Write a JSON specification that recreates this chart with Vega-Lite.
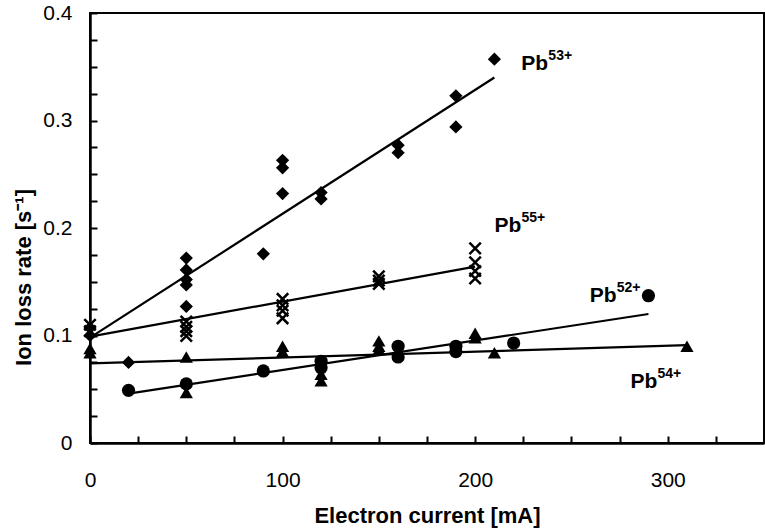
{
  "$schema": "https://vega.github.io/schema/vega-lite/v6.json",
  "width": 674,
  "height": 430,
  "autosize": "none",
  "padding": {"left": 90, "top": 13, "right": 1, "bottom": 89},
  "background": "white",
  "config": {
    "view": {"stroke": "black", "strokeWidth": 2},
    "font": "Liberation Sans",
    "axis": {
      "domainColor": "black", "domainWidth": 2.5, "tickColor": "black", "tickWidth": 2,
      "tickSize": -7, "grid": false, "labelColor": "black", "labelFont": "Liberation Sans",
      "labelFontSize": 21, "titleFont": "Liberation Sans", "titleFontSize": 22,
      "titleFontWeight": "bold", "titleColor": "black"
    }
  },
  "datasets": {
    "points": [
      {"series": "Pb53+", "current": 0, "rate": 0.107},
      {"series": "Pb53+", "current": 0, "rate": 0.100},
      {"series": "Pb53+", "current": 20, "rate": 0.075},
      {"series": "Pb53+", "current": 50, "rate": 0.172},
      {"series": "Pb53+", "current": 50, "rate": 0.161},
      {"series": "Pb53+", "current": 50, "rate": 0.152},
      {"series": "Pb53+", "current": 50, "rate": 0.147},
      {"series": "Pb53+", "current": 50, "rate": 0.127},
      {"series": "Pb53+", "current": 90, "rate": 0.176},
      {"series": "Pb53+", "current": 100, "rate": 0.263},
      {"series": "Pb53+", "current": 100, "rate": 0.256},
      {"series": "Pb53+", "current": 100, "rate": 0.232},
      {"series": "Pb53+", "current": 120, "rate": 0.233},
      {"series": "Pb53+", "current": 120, "rate": 0.227},
      {"series": "Pb53+", "current": 160, "rate": 0.277},
      {"series": "Pb53+", "current": 160, "rate": 0.270},
      {"series": "Pb53+", "current": 190, "rate": 0.323},
      {"series": "Pb53+", "current": 190, "rate": 0.294},
      {"series": "Pb53+", "current": 210, "rate": 0.357},
      {"series": "Pb55+", "current": 0, "rate": 0.110},
      {"series": "Pb55+", "current": 0, "rate": 0.104},
      {"series": "Pb55+", "current": 50, "rate": 0.113},
      {"series": "Pb55+", "current": 50, "rate": 0.108},
      {"series": "Pb55+", "current": 50, "rate": 0.104},
      {"series": "Pb55+", "current": 50, "rate": 0.0995},
      {"series": "Pb55+", "current": 100, "rate": 0.134},
      {"series": "Pb55+", "current": 100, "rate": 0.128},
      {"series": "Pb55+", "current": 100, "rate": 0.123},
      {"series": "Pb55+", "current": 100, "rate": 0.116},
      {"series": "Pb55+", "current": 150, "rate": 0.155},
      {"series": "Pb55+", "current": 150, "rate": 0.151},
      {"series": "Pb55+", "current": 150, "rate": 0.148},
      {"series": "Pb55+", "current": 200, "rate": 0.181},
      {"series": "Pb55+", "current": 200, "rate": 0.168},
      {"series": "Pb55+", "current": 200, "rate": 0.160},
      {"series": "Pb55+", "current": 200, "rate": 0.153},
      {"series": "Pb54+", "current": 0, "rate": 0.088},
      {"series": "Pb54+", "current": 0, "rate": 0.084},
      {"series": "Pb54+", "current": 50, "rate": 0.080},
      {"series": "Pb54+", "current": 50, "rate": 0.047},
      {"series": "Pb54+", "current": 100, "rate": 0.090},
      {"series": "Pb54+", "current": 100, "rate": 0.085},
      {"series": "Pb54+", "current": 120, "rate": 0.064},
      {"series": "Pb54+", "current": 120, "rate": 0.058},
      {"series": "Pb54+", "current": 150, "rate": 0.095},
      {"series": "Pb54+", "current": 150, "rate": 0.090},
      {"series": "Pb54+", "current": 150, "rate": 0.087},
      {"series": "Pb54+", "current": 200, "rate": 0.102},
      {"series": "Pb54+", "current": 200, "rate": 0.098},
      {"series": "Pb54+", "current": 210, "rate": 0.084},
      {"series": "Pb54+", "current": 310, "rate": 0.090},
      {"series": "Pb52+", "current": 20, "rate": 0.049},
      {"series": "Pb52+", "current": 50, "rate": 0.055},
      {"series": "Pb52+", "current": 90, "rate": 0.067},
      {"series": "Pb52+", "current": 120, "rate": 0.076},
      {"series": "Pb52+", "current": 120, "rate": 0.070},
      {"series": "Pb52+", "current": 160, "rate": 0.090},
      {"series": "Pb52+", "current": 160, "rate": 0.080},
      {"series": "Pb52+", "current": 190, "rate": 0.090},
      {"series": "Pb52+", "current": 190, "rate": 0.085},
      {"series": "Pb52+", "current": 220, "rate": 0.093},
      {"series": "Pb52+", "current": 290, "rate": 0.137}
    ],
    "lines": [
      {"series": "Pb53+", "current": 0, "rate": 0.098},
      {"series": "Pb53+", "current": 210, "rate": 0.340},
      {"series": "Pb55+", "current": 0, "rate": 0.099},
      {"series": "Pb55+", "current": 200, "rate": 0.164},
      {"series": "Pb52+", "current": 20, "rate": 0.046},
      {"series": "Pb52+", "current": 290, "rate": 0.120},
      {"series": "Pb54+", "current": 0, "rate": 0.074},
      {"series": "Pb54+", "current": 310, "rate": 0.091}
    ],
    "labels": [
      {"base": "Pb", "sup": "53+", "current": 224, "rate": 0.347},
      {"base": "Pb", "sup": "55+", "current": 210, "rate": 0.196},
      {"base": "Pb", "sup": "52+", "current": 259.5, "rate": 0.131},
      {"base": "Pb", "sup": "54+", "current": 280.7, "rate": 0.051}
    ]
  },
  "encoding": {
    "x": {
      "field": "current", "type": "quantitative",
      "scale": {"domain": [0, 350], "nice": false, "zero": false},
      "axis": {
        "title": "Electron current [mA]",
        "values": [0, 25, 50, 75, 100, 125, 150, 175, 200, 225, 250, 275, 300, 325, 350],
        "labelExpr": "datum.value % 100 === 0 ? datum.label : ''",
        "labelPadding": 33, "labelFlush": false, "labelOverlap": false,
        "titleY": 72, "titleBaseline": "middle"
      }
    },
    "y": {
      "field": "rate", "type": "quantitative",
      "scale": {"domain": [0, 0.4], "nice": false, "zero": false},
      "axis": {
        "title": "Ion loss rate [s⁻¹]",
        "values": [0, 0.025, 0.05, 0.075, 0.1, 0.125, 0.15, 0.175, 0.2, 0.225, 0.25, 0.275, 0.3, 0.325, 0.35, 0.375, 0.4],
        "labelExpr": "abs(datum.value * 10 - round(datum.value * 10)) < 0.001 ? format(datum.value, '~g') : ''",
        "labelPadding": 25, "labelFlush": false, "labelOverlap": false,
        "titleX": -67, "titleY": 264, "titleBaseline": "middle"
      }
    }
  },
  "layer": [
    {
      "data": {"name": "lines"},
      "mark": {"type": "line", "color": "black", "strokeWidth": 2.2},
      "encoding": {"detail": {"field": "series", "type": "nominal"}}
    },
    {
      "data": {"name": "points"},
      "transform": [{"filter": "datum.series !== 'Pb55+'"}],
      "mark": {"type": "point", "filled": true, "color": "black", "opacity": 1, "size": 175},
      "encoding": {
        "shape": {
          "field": "series", "type": "nominal", "legend": null,
          "scale": {"domain": ["Pb53+", "Pb52+", "Pb54+"], "range": ["diamond", "circle", "triangle-up"]}
        }
      }
    },
    {
      "data": {"name": "points"},
      "transform": [{"filter": "datum.series === 'Pb55+'"}],
      "mark": {"type": "point", "shape": "M-1,-1L1,1M-1,1L1,-1", "filled": false, "color": "black", "strokeWidth": 2.5, "opacity": 1, "size": 130}
    },
    {
      "data": {"name": "labels"},
      "mark": {"type": "text", "align": "left", "baseline": "alphabetic", "fontSize": 21, "fontWeight": "bold", "color": "black"},
      "encoding": {"text": {"field": "base"}}
    },
    {
      "data": {"name": "labels"},
      "mark": {"type": "text", "align": "left", "baseline": "alphabetic", "fontSize": 14, "fontWeight": "bold", "color": "black", "dx": 27, "dy": -10},
      "encoding": {"text": {"field": "sup"}}
    }
  ]
}
